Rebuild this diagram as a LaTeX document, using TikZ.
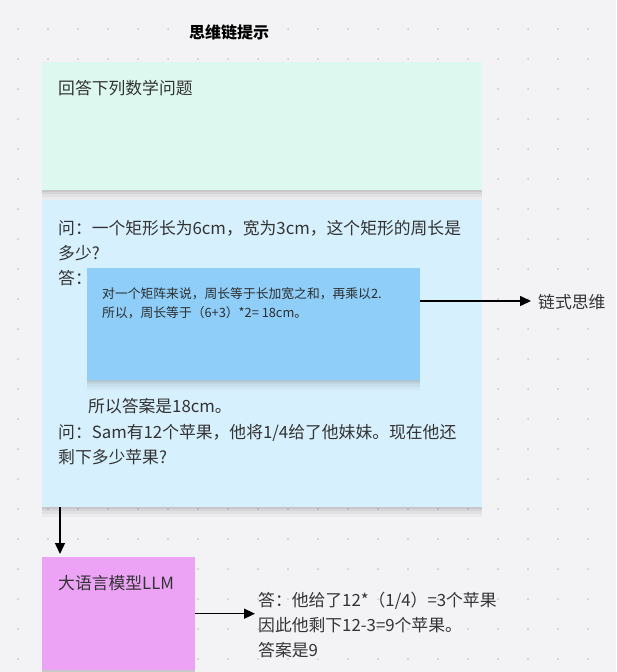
\documentclass[tikz,border=0pt]{standalone}
\usepackage{fontspec}
\setmainfont{Noto Sans CJK SC}
\usepackage{tikz}
\usetikzlibrary{arrows.meta,positioning,calc,shadows}

\definecolor{canvasbg}{HTML}{F3F3F6}
\definecolor{dotgray}{HTML}{C9C9CE}
\definecolor{inkgray}{HTML}{333333}
\definecolor{promptgreen}{HTML}{DCF8EF}
\definecolor{shotblue}{HTML}{D7F0FD}
\definecolor{cotblue}{HTML}{8ECEF8}
\definecolor{llmpink}{HTML}{ECA3F6}

\begin{document}
\begin{tikzpicture}[
  x=1pt, y=-1pt,
  sticky/.style={anchor=north west, inner sep=0pt, draw=none,
    drop shadow={shadow xshift=0pt, shadow yshift=-2pt, opacity=.06, fill=black},
    drop shadow={shadow xshift=0pt, shadow yshift=-4pt, opacity=.05, fill=black},
    drop shadow={shadow xshift=0pt, shadow yshift=-7pt, opacity=.04, fill=black},
    drop shadow={shadow xshift=0pt, shadow yshift=-10pt, opacity=.03, fill=black}},
  body/.style={inner sep=0pt, align=left, text=inkgray, font=\fontsize{16.8}{25}\selectfont},
  small/.style={inner sep=0pt, align=left, text=inkgray!90!black, font=\fontsize{12.8}{19}\selectfont},
  flow/.style={-{Triangle[length=11pt, width=10pt]}, line width=1.5pt, draw=black}
]
  \useasboundingbox[fill=canvasbg] (0,0) rectangle (616,672);
  \foreach \x in {18,48,...,588} {
    \foreach \y in {-1,29,...,659} {
      \fill[dotgray] (\x,\y) circle (1pt);
    }
  }

  \node[font=\bfseries\fontsize{16}{19}\selectfont, text=black, inner sep=0pt] (title) at (229,32) {思维链提示};

  % prompt boxes
  \node[sticky, fill=promptgreen, minimum width=440pt, minimum height=128pt] (prompt) at (42,62) {};
  \node[body, anchor=west] (task) at (58,88) {回答下列数学问题};

  \node[sticky, fill=shotblue, minimum width=440pt, minimum height=307pt] (shot) at (42,200) {};
  \node[body, anchor=north west] (q1) at (58,220) {问：一个矩形长为6cm，宽为3cm，这个矩形的周长是\\多少?};
  \node[body, anchor=west] (a1) at (58,278) {答：};
  \node[sticky, fill=cotblue, minimum width=333pt, minimum height=112pt] (cot) at (87,268) {};
  \node[small, anchor=north west] (reason) at (102,287) {对一个矩阵来说，周长等于长加宽之和，再乘以2.\\所以，周长等于（6+3）*2= 18cm。};
  \node[body, anchor=west] (a1end) at (88,406) {所以答案是18cm。};
  \node[body, anchor=north west] (q2) at (58,424) {问：Sam有12个苹果，他将1/4给了他妹妹。现在他还\\剩下多少苹果?};

  \node[body, anchor=west] (cotlabel) at (538,302) {链式思维};
  \draw[flow, shorten >=7pt] ($(cot.north east)+(0,33)$) -- (cotlabel.west |- {$(cot.north east)+(0,33)$});

  % model and output
  \node[sticky, fill=llmpink, minimum width=153pt, minimum height=113pt] (llm) at (42,557) {};
  \node[body, anchor=west] (llmname) at (58,583) {大语言模型LLM};
  \draw[flow, shorten >=3pt] ($(shot.south west)+(18,0)$) -- ($(llm.north west)+(18,0)$);

  \node[body, anchor=north west] (answer) at (258,592) {答：他给了12*（1/4）=3个苹果\\因此他剩下12-3=9个苹果。\\答案是9};
  \draw[flow, shorten >=3pt] (llm.east) -- (llm.east -| answer.west);
\end{tikzpicture}
\end{document}
